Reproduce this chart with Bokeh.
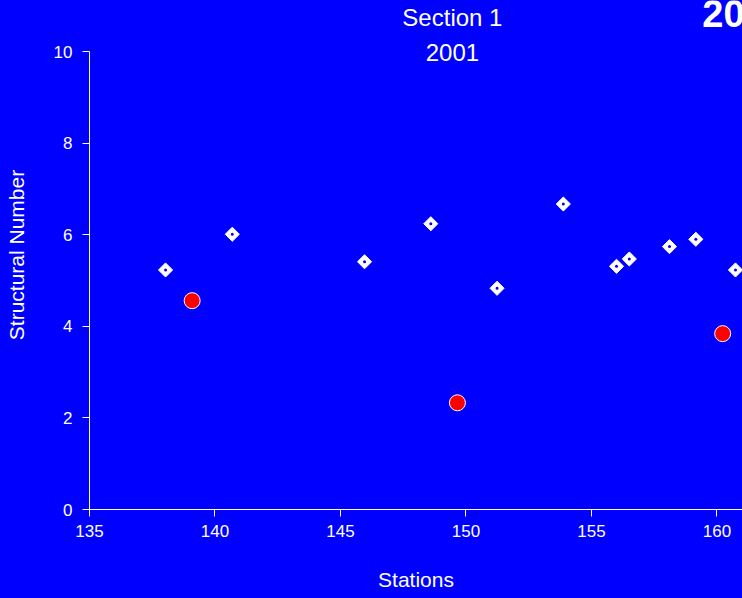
import math
from bokeh.plotting import figure
from bokeh.models import Label, Range1d, FixedTicker
from bokeh.embed import file_html
from bokeh.resources import INLINE

# Data
stations_sn = [138.03, 140.69, 145.96, 148.60, 151.24, 153.88, 156.00, 156.51, 158.11, 159.16, 160.74]
structural_number = [5.23, 6.01, 5.41, 6.24, 4.83, 6.67, 5.31, 5.47, 5.74, 5.90, 5.23]
stations_red = [139.09, 149.66, 160.23]
red_values = [4.56, 2.33, 3.84]
x_ticks = [135, 140, 145, 150, 155, 160]
y_ticks = [0, 2, 4, 6, 8, 10]

BLUE = "#0000FF"
FONT = "Liberation Sans"

# frame spans to top and right edge of canvas; axis line bounded to 0..10
p = figure(width=742, height=598, output_backend="svg", toolbar_location=None,
           x_range=Range1d(135, 161.02), y_range=Range1d(0, 11.114),
           min_border_left=89, min_border_right=0, min_border_top=0, min_border_bottom=89)
p.background_fill_color = BLUE
p.border_fill_color = BLUE
p.outline_line_color = None
p.xgrid.visible = False
p.ygrid.visible = False

for ax in (p.xaxis[0], p.yaxis[0]):
    ax.axis_line_color = "white"
    ax.major_tick_line_color = "white"
    ax.minor_tick_line_color = None
    ax.major_tick_out = 7
    ax.major_tick_in = 0
    ax.major_label_text_color = "white"
    ax.major_label_text_font = FONT
    ax.major_label_text_font_size = "17px"
    ax.axis_label_text_color = "white"
    ax.axis_label_text_font = FONT
    ax.axis_label_text_font_size = "21px"
    ax.axis_label_text_font_style = "normal"
p.xaxis[0].ticker = FixedTicker(ticks=x_ticks)
p.yaxis[0].ticker = FixedTicker(ticks=y_ticks)
p.yaxis[0].bounds = (0, 10)
p.xaxis[0].major_label_standoff = 8
p.yaxis[0].major_label_standoff = 10
p.xaxis[0].axis_label = "Stations"
p.yaxis[0].axis_label = "Structural Number"
p.xaxis[0].axis_label_standoff = 28
p.yaxis[0].axis_label_standoff = 23

# Diamonds (white with blue center dot)
p.scatter(stations_sn, structural_number, marker="square", size=10, angle=math.pi / 4,
          fill_color="white", line_color="white", line_width=1)
p.scatter(stations_sn, structural_number, marker="circle", size=3,
          fill_color=BLUE, line_color=None)
# Red circles
p.scatter(stations_red, red_values, marker="circle", size=16,
          fill_color="#FF0000", line_color="white", line_width=1)

def lab(x, y, text, size, **kw):
    p.add_layout(Label(x=x, y=y, text=text, text_color="white", text_font=FONT,
                       text_font_size=size, **kw))

lab(149.46, 10.74, "Section 1", "24px", text_align="center", text_baseline="middle")
lab(149.46, 9.97, "2001", "24px", text_align="center", text_baseline="middle")
lab(159.42, 10.83, "20", "38px", text_align="left", text_baseline="middle", text_font_style="bold")

html = file_html(p, INLINE)
i = html.rfind("<body")
if i >= 0:
    html = html[:i] + '<body style="background-color:#0000FF;"' + html[i + 5:]
open("out.html", "w").write(html)
